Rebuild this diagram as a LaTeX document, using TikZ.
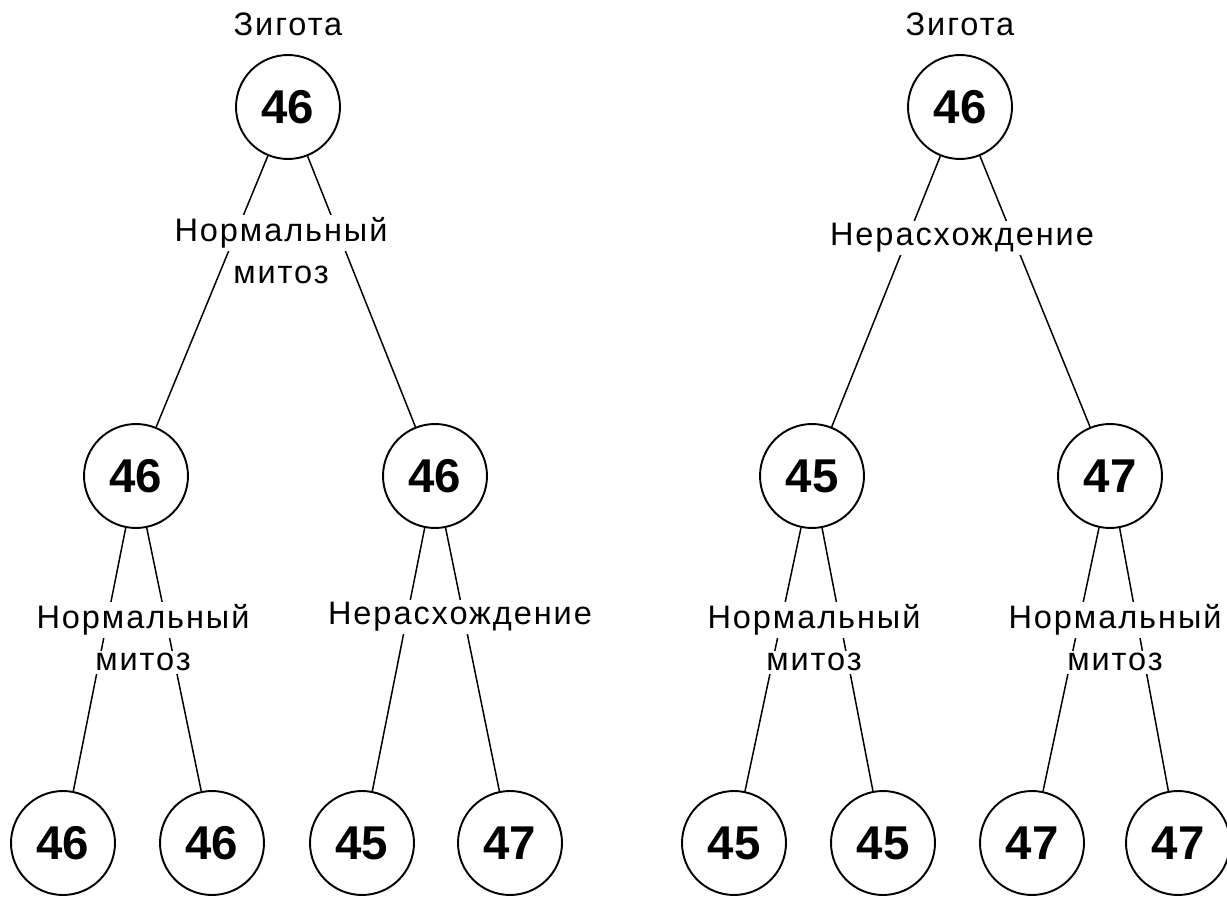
\documentclass[tikz,border=0pt]{standalone}
\usepackage{fontspec}
\setmainfont{Liberation Sans}
\newfontfamily\spacedfont[LetterSpace=6]{Liberation Sans}
\usepackage{tikz}
\usetikzlibrary{positioning}

\begin{document}
\begin{tikzpicture}[x=0.02cm, y=-0.02cm,
  cell_node/.style={circle, draw=black, line width=1.1pt, minimum size=2.08cm, inner sep=0pt, font=\fontsize{27}{27}\selectfont\bfseries},
  lbl_node/.style={inner sep=0pt, align=center, font=\spacedfont\fontsize{18.5}{24}\selectfont},
  link/.style={line width=0.85pt, black},
]
  \useasboundingbox (0,0) rectangle (1227,898);
  \setlength{\fboxsep}{1.5pt}
  % left tree
  \node[cell_node] (l0) at (288,107) {46};
  \node[cell_node] (l1) at (136,476) {46};
  \node[cell_node] (l2) at (435,476) {46};
  \foreach \x/\n/\k in {63/46/11, 212/46/12, 362/45/21, 510/47/22}
    \node[cell_node] (l\k) at (\x,843) {\n};
  % right tree
  \node[cell_node] (r0) at (960,107) {46};
  \node[cell_node] (r1) at (812,476) {45};
  \node[cell_node] (r2) at (1110,476) {47};
  \foreach \x/\n/\k in {734/45/11, 883/45/12, 1032/47/21, 1178/47/22}
    \node[cell_node] (r\k) at (\x,843) {\n};
  % links
  \foreach \t in {l,r} {
    \draw[link] (\t0) -- (\t1);
    \draw[link] (\t0) -- (\t2);
    \foreach \i in {1,2}
      \foreach \j in {1,2}
        \draw[link] (\t\i) -- (\t\i\j);
  }
  % labels
  \node[lbl_node, above=0.36cm of l0] (lzyg) {Зигота};
  \node[lbl_node, above=0.36cm of r0] (rzyg) {Зигота};
  \node[lbl_node] (lmit0) at (281,251) {\colorbox{white}{Нормальный}\\\colorbox{white}{митоз}};
  \node[lbl_node] (rner0) at (962,238) {\colorbox{white}{Нерасхождение}};
  \node[lbl_node] (lmit1) at (143,638) {\colorbox{white}{Нормальный}\\\colorbox{white}{митоз}};
  \node[lbl_node] (lner2) at (460,617) {\colorbox{white}{Нерасхождение}};
  \node[lbl_node] (rmit1) at (814,638) {\colorbox{white}{Нормальный}\\\colorbox{white}{митоз}};
  \node[lbl_node] (rmit2) at (1115,638) {\colorbox{white}{Нормальный}\\\colorbox{white}{митоз}};
\end{tikzpicture}
\end{document}
